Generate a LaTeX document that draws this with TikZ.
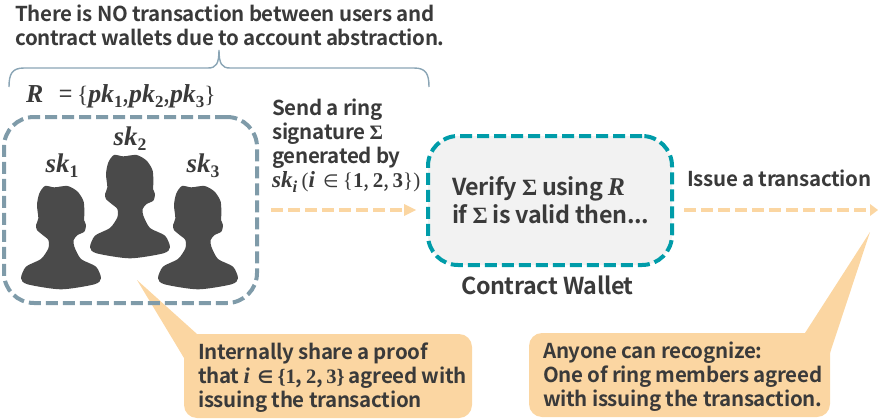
\documentclass[tikz,border=0pt]{standalone}
\usepackage{fontspec}
\setmainfont{Noto Sans CJK JP}[BoldFont={* Bold},LetterSpace=-1.6]
\newfontfamily\mf{Liberation Serif}
\newfontfamily\symf{DejaVu Sans}
\newcommand{\mi}[1]{{\mf\bfseries\itshape\fontsize{1.1em}{1em}\selectfont #1}}
\newcommand{\mb}[1]{{\mf\bfseries #1}}
\newcommand{\mr}[1]{{\mf #1}}
\newcommand{\msub}[1]{\raisebox{-0.22em}{\scalebox{0.72}{#1}}}
\newcommand{\inset}{{\symf\scalebox{0.85}{∈}}}
\newcommand{\set}{\mr{\{}\mb{1},\,\mb{2},\,\mb{3}\mr{\}}}
\definecolor{ink}{HTML}{3A3A3A}
\definecolor{ringc}{HTML}{7F9BA9}
\definecolor{tealc}{HTML}{009CA9}
\definecolor{orangec}{HTML}{FBD6A2}
\definecolor{walletfill}{HTML}{F2F2F2}
\definecolor{personc}{HTML}{4A4A4A}
\definecolor{bracec}{HTML}{8AA5B5}
\tikzset{
  x=1pt,y=-1pt,
  txt/.style={font=\fontsize{20.5}{24}\selectfont\bfseries,text=ink,align=left,inner sep=0pt,anchor=north west},
  bigtxt/.style={txt,font=\fontsize{23.3}{28}\selectfont\bfseries},
  mathlab/.style={font=\fontsize{24.5}{24}\selectfont,text=ink,inner sep=0pt},
  dashbox/.style={line width=4pt,rounded corners=30pt,dash pattern=on 12pt off 5pt},
  flow/.style={draw=orangec,line width=4pt,dash pattern=on 12pt off 5pt},
  tipstyle/.style={fill=orangec},
  callout/.style={fill=orangec,rounded corners=13pt},
  persona/.style={fill=personc},
}
\newcommand{\person}[3]{% name, cx, top
  \begin{scope}[shift={(#2,#3)},x=0.3333pt,y=-0.3333pt]
    \fill[persona] plot[smooth cycle,tension=0.45] coordinates {
      (-48,3) (-20,7) (20,3) (50,20) (68,50) (70,90) (69,105) (75,120) (70,140) (50,150)
      (38,165) (40,185) (60,222) (105,245) (120,280) (100,298) (0,313)
      (-100,298) (-120,280) (-105,245) (-60,222) (-38,190) (-38,165) (-55,150) (-72,135)
      (-75,120) (-68,100) (-72,60) (-65,25)};
    \coordinate (#1) at (0,150);
  \end{scope}}
\begin{document}
\begin{tikzpicture}
\useasboundingbox (0,0) rectangle (878,420);
% callouts
\fill[callout] (184,334) rectangle (472,418);
\fill[tipstyle] (137,280) -- (197,334) -- (184,358) -- cycle;
\fill[callout] (529,333) rectangle (830,417);
\fill[tipstyle] (870,232) -- (805,333) -- (830,353) -- cycle;
\fill[orangec] (805,333) rectangle (830,353);
% brace
\draw[bracec,line width=1.4pt] (9,87) .. controls (9,74) and (12,68) .. (24,68) -- (208,68)
  .. controls (216,68) and (219,64) .. (219,50) .. controls (219,64) and (222,68) .. (230,68)
  -- (414,68) .. controls (426,68) and (429,74) .. (429,87);
% boxes
\node[draw=ringc,dashbox,minimum width=253pt,minimum height=186pt,inner sep=0pt] (ring) at (130.5,210) {};
\node[draw=tealc,fill=walletfill,dashbox,minimum width=244pt,minimum height=129pt,inner sep=0pt] (wallet) at (550,200.5) {};
% people
\person{p1}{61}{185}
\person{p2}{130}{154}
\person{p3}{198}{185}
% flow arrows
\coordinate (a1s) at (271,210);
\coordinate (a1e) at (405,210);
\coordinate (a2s) at (684,210);
\coordinate (a2e) at (870,210);
\draw[flow] (a1s) -- (a1e);
\draw[flow] (a2s) -- (a2e);
\fill[tipstyle] (416,210) -- (404,204) -- (404,216) -- cycle;
\fill[tipstyle] (878,210) -- (870,204) -- (870,216) -- cycle;
% text
\node[txt] (t1) at (15,5) {There is NO transaction between users and\\contract wallets due to account abstraction.};
\node[mathlab,anchor=base west,font=\fontsize{23.5}{24}\selectfont] (rset) at (26,102) {\mi{R}\,\,\,\,= \mr{\{}\mi{pk}\msub{\mb{1}},\mi{pk}\msub{\mb{2}},\mi{pk}\msub{\mb{3}}\mr{\}}};
\node[mathlab,anchor=base] (s1) at (62,172) {\mi{sk}\msub{\mb{1}}};
\node[mathlab,anchor=base] (s2) at (130,145) {\mi{sk}\msub{\mb{2}}};
\node[mathlab,anchor=base] (s3) at (203,172) {\mi{sk}\msub{\mb{3}}};
\node[txt] (send) at (272,99) {Send a ring\\signature \mb{Σ}\\generated by\\{\fontsize{21}{24}\selectfont\mdseries\mi{sk}\msub{\mi{i}} \mr{(}\mi{i}\, \inset{} \set\mr{)}}};
\node[bigtxt] (verify) at (452,176) {Verify \mb{Σ} using \mi{R}\\if \mb{Σ} is valid then...};
\node[bigtxt] (cw) at (461,276) {Contract Wallet};
\node[txt] (issue) at (687,170) {Issue a transaction};
\node[txt] (share) at (198,343) {Internally share a proof\\that \mi{i}\, \inset{} \set{} agreed with\\issuing the transaction};
\node[txt] (anyone) at (543,342) {Anyone can recognize:\\One of ring members agreed\\with issuing the transaction.};
\end{tikzpicture}
\end{document}
